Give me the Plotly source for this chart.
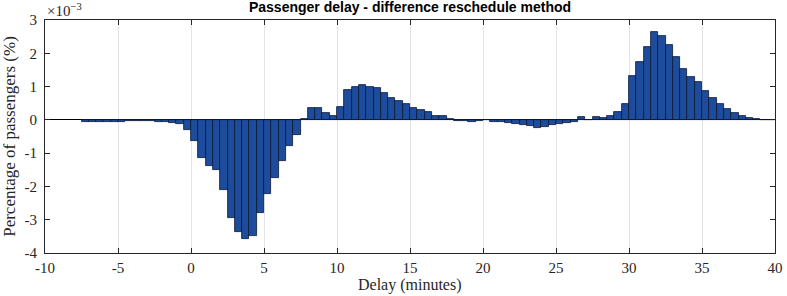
import plotly.graph_objects as go

# Bin left edges (minutes), width 0.5
bin_start = -7.5
bin_width = 0.5
# Difference in percentage of passengers, in units of 1e-3
values = [
    -0.06, -0.07, -0.06, -0.06, -0.05, -0.05, -0.04, -0.04, -0.03, -0.04,
    -0.05, -0.06, -0.08, -0.12, -0.30,
    -0.65, -1.15, -1.40, -1.50, -2.10, -2.95, -3.38, -3.58, -3.48, -2.80,
    -2.23, -1.75, -1.25, -0.80, -0.45,
    0.03, 0.37, 0.35, 0.21, 0.11,
    0.39, 0.90, 1.00, 1.05, 1.00, 0.96, 0.82, 0.67, 0.58, 0.47,
    0.35, 0.30, 0.23, 0.13, 0.11, 0.02, -0.04, -0.04, -0.07, -0.04,
    -0.01, -0.05, -0.07, -0.08, -0.12, -0.16, -0.18, -0.23, -0.20, -0.15,
    -0.12, -0.10, -0.06, 0.08, 0.01, 0.08, 0.05, 0.11, 0.24, 0.49,
    1.32, 1.73, 2.20, 2.63, 2.53, 2.26, 1.90, 1.53, 1.28, 1.13,
    0.86, 0.65, 0.48, 0.33, 0.21, 0.11, 0.06, 0.02, 0.01, 0.01,
]
scale = 1e-3
x_ticks = [-10, -5, 0, 5, 10, 15, 20, 25, 30, 35, 40]
y_ticks = [-4, -3, -2, -1, 0, 1, 2, 3]

centers = [bin_start + bin_width * (i + 0.5) for i in range(len(values))]
yvals = [v * scale for v in values]

serif = "Liberation Serif"
axis_col = "#262626"

fig = go.Figure(go.Bar(
    x=centers, y=yvals, width=bin_width,
    marker=dict(color="#1d4c9c", line=dict(color="#0b1736", width=0.8)),
))

fig.update_layout(
    width=787, height=296,
    margin=dict(l=45, r=12, t=20, b=43),
    plot_bgcolor="white", paper_bgcolor="white",
    showlegend=False, bargap=0,
    title=dict(text="<b>Passenger delay - difference reschedule method</b>",
               x=(45 + 775) / 2 / 787, xanchor="center", y=0.975, yanchor="middle",
               automargin=False,
               font=dict(family="Liberation Sans", size=14, color="black")),
    xaxis=dict(range=[-10, 40], tickvals=x_ticks, ticktext=[str(t) for t in x_ticks],
               ticks="inside", ticklen=5, tickcolor=axis_col, mirror="ticks",
               showline=True, linecolor=axis_col, linewidth=1, automargin=False,
               showgrid=True, gridcolor="#e3e3e3", gridwidth=1, zeroline=False,
               ticklabelstandoff=1,
               tickfont=dict(family=serif, size=15, color=axis_col)),
    yaxis=dict(range=[-4 * scale, 3 * scale], tickvals=[t * scale for t in y_ticks],
               ticktext=[str(t) for t in y_ticks],
               ticks="inside", ticklen=5, tickcolor=axis_col, mirror="ticks",
               showline=True, linecolor=axis_col, linewidth=1, automargin=False,
               showgrid=False, zeroline=True, zerolinecolor="black", zerolinewidth=1,
               ticklabelstandoff=4,
               tickfont=dict(family=serif, size=15, color=axis_col),
               title=dict(text="Percentage of passengers (%)", standoff=6,
                          font=dict(family=serif, size=17, color=axis_col))),
    annotations=[
        dict(text="×10<sup>−3</sup>", xref="paper", yref="paper",
             x=0, y=1, xanchor="left", yanchor="bottom", yshift=-1, showarrow=False,
             font=dict(family=serif, size=15, color=axis_col)),
        dict(text="Delay (minutes)", xref="paper", yref="paper",
             x=0.5, y=-43 / 233, xanchor="center", yanchor="bottom", showarrow=False,
             font=dict(family=serif, size=16, color=axis_col)),
    ],
)

fig.write_html("out.html")
